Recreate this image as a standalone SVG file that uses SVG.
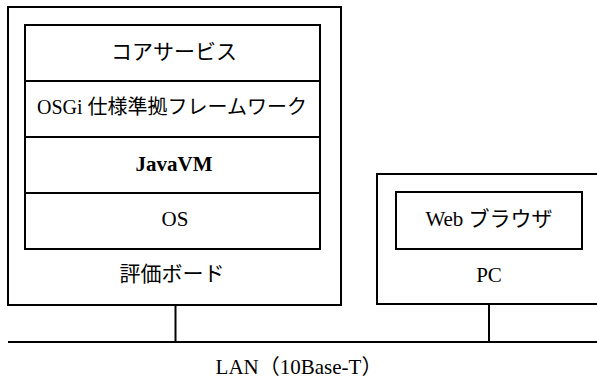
<svg xmlns="http://www.w3.org/2000/svg" width="597" height="379" viewBox="0 0 597 379">
<style>
  .box { fill: none; stroke: #000; stroke-width: 2; }
  .line { fill: none; stroke: #000; stroke-width: 2; }
  .t { font-family: "Liberation Serif", "Noto Sans CJK JP", serif; font-size: 21px; fill: #000; text-anchor: middle; }
  .b { font-weight: bold; }
  .s { font-size: 20px; }
</style>
<rect width="597" height="379" fill="#fff"/>
<g id="board">
  <rect class="box" x="8" y="7" width="333" height="298"/>
  <text class="t" x="172" y="281">評価ボード</text>
</g>
<g id="core-services">
  <rect class="box" x="25" y="25" width="295" height="56"/>
  <text class="t" x="174" y="59">コアサービス</text>
</g>
<g id="osgi-framework">
  <rect class="box" x="25" y="81" width="295" height="56"/>
  <text class="t s" x="172" y="114">OSGi 仕様準拠フレームワーク</text>
</g>
<g id="javavm">
  <rect class="box" x="25" y="137" width="295" height="56"/>
  <text class="t b" x="174" y="171">JavaVM</text>
</g>
<g id="os">
  <rect class="box" x="25" y="193" width="295" height="56"/>
  <text class="t" x="175" y="226">OS</text>
</g>
<g id="pc">
  <path class="box" d="M599 174 H377 V304 H599"/>
  <text class="t" x="489" y="282">PC</text>
</g>
<g id="web-browser">
  <rect class="box" x="396" y="192" width="186" height="57"/>
  <text class="t" x="489" y="226">Web ブラウザ</text>
</g>
<g id="lan">
  <line class="line" x1="8" y1="342" x2="597" y2="342"/>
  <text class="t" x="299" y="374">LAN（10Base-T）</text>
</g>
<g id="connectors">
  <line class="line" x1="175.5" y1="305" x2="175.5" y2="342"/>
  <line class="line" x1="489" y1="304" x2="489" y2="342"/>
</g>
</svg>
